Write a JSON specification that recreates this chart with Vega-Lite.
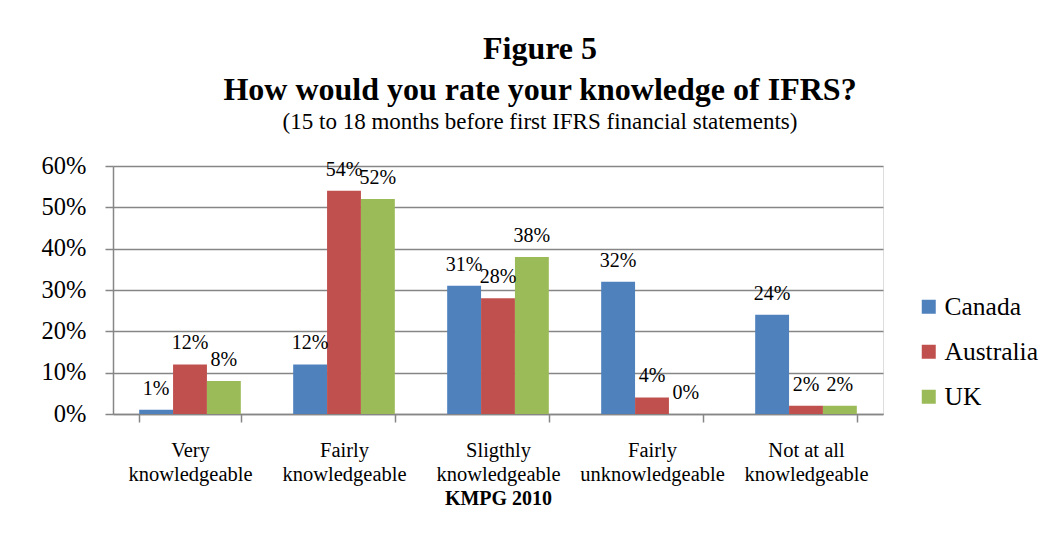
{
  "$schema": "https://vega.github.io/schema/vega-lite/v6.json",
  "autosize": {"type": "none"},
  "width": 770,
  "height": 248,
  "padding": {"left": 113, "top": 166, "right": 171, "bottom": 142},
  "background": "white",
  "title": {
    "text": ["Figure 5", "How would you rate your knowledge of IFRS?"],
    "subtitle": "(15 to 18 months before first IFRS financial statements)",
    "font": "Liberation Serif",
    "fontSize": 32,
    "fontWeight": "bold",
    "color": "black",
    "subtitleFont": "Liberation Serif",
    "subtitleFontSize": 23,
    "subtitleColor": "black",
    "anchor": "middle",
    "dx": 42,
    "offset": 18,
    "lineHeight": 41,
    "subtitlePadding": 4
  },
  "data": {
    "values": [
      {"category": "Very knowledgeable", "country": "Canada", "value": 0.01},
      {"category": "Very knowledgeable", "country": "Australia", "value": 0.12},
      {"category": "Very knowledgeable", "country": "UK", "value": 0.08},
      {"category": "Fairly knowledgeable", "country": "Canada", "value": 0.12},
      {"category": "Fairly knowledgeable", "country": "Australia", "value": 0.54},
      {"category": "Fairly knowledgeable", "country": "UK", "value": 0.52},
      {"category": "Sligthly knowledgeable", "country": "Canada", "value": 0.31},
      {"category": "Sligthly knowledgeable", "country": "Australia", "value": 0.28},
      {"category": "Sligthly knowledgeable", "country": "UK", "value": 0.38},
      {"category": "Fairly unknowledgeable", "country": "Canada", "value": 0.32},
      {"category": "Fairly unknowledgeable", "country": "Australia", "value": 0.04},
      {"category": "Fairly unknowledgeable", "country": "UK", "value": 0.0},
      {"category": "Not at all knowledgeable", "country": "Canada", "value": 0.24},
      {"category": "Not at all knowledgeable", "country": "Australia", "value": 0.02},
      {"category": "Not at all knowledgeable", "country": "UK", "value": 0.02}
    ]
  },
  "encoding": {
    "x": {
      "field": "category",
      "type": "nominal",
      "sort": null,
      "title": "KMPG 2010",
      "scale": {"paddingInner": 0.34, "paddingOuter": 0.17},
      "axis": {
        "tickBand": "extent",
        "labelAngle": 0,
        "labelFont": "Liberation Serif",
        "labelFontSize": 20.5,
        "labelColor": "black",
        "labelLineHeight": 24,
        "labelPadding": 18,
        "labelLimit": 0,
        "labelExpr": "[substring(datum.label, 0, lastindexof(datum.label, ' ')), substring(datum.label, lastindexof(datum.label, ' ') + 1)]",
        "tickSize": 8,
        "tickColor": "#868686",
        "tickWidth": 1.5,
        "domainColor": "#868686",
        "domainWidth": 1.5,
        "grid": false,
        "titleFont": "Liberation Serif",
        "titleFontSize": 20,
        "titleFontWeight": "bold",
        "titleColor": "black",
        "titlePadding": 4
      }
    },
    "xOffset": {"field": "country", "type": "nominal", "sort": ["Canada", "Australia", "UK"]},
    "y": {
      "field": "value",
      "type": "quantitative",
      "scale": {"domain": [0, 0.6]},
      "axis": {
        "title": null,
        "values": [0, 0.1, 0.2, 0.3, 0.4, 0.5, 0.6],
        "format": ".0%",
        "labelFont": "Liberation Serif",
        "labelFontSize": 24.5,
        "labelColor": "black",
        "labelPadding": 19,
        "tickSize": 8,
        "tickColor": "#868686",
        "tickWidth": 1.5,
        "domainColor": "#868686",
        "domainWidth": 1.5,
        "gridColor": "#868686",
        "gridWidth": 1.5
      }
    }
  },
  "layer": [
    {
      "mark": {"type": "bar"},
      "encoding": {
        "color": {
          "field": "country",
          "type": "nominal",
          "scale": {"domain": ["Canada", "Australia", "UK"], "range": ["#4F81BD", "#C0504D", "#9BBB59"]},
          "legend": {
            "title": null,
            "orient": "none",
            "legendX": 803,
            "legendY": 128,
            "symbolType": "square",
            "symbolSize": 196,
            "symbolStrokeWidth": 0,
            "labelFont": "Liberation Serif",
            "labelFontSize": 25.5,
            "labelColor": "black",
            "labelOffset": 3,
            "rowPadding": 18
          }
        }
      }
    },
    {
      "mark": {"type": "text", "baseline": "alphabetic", "dy": -15, "font": "Liberation Serif", "fontSize": 20, "color": "black"},
      "encoding": {"text": {"field": "value", "type": "quantitative", "format": ".0%"}}
    }
  ]
}
